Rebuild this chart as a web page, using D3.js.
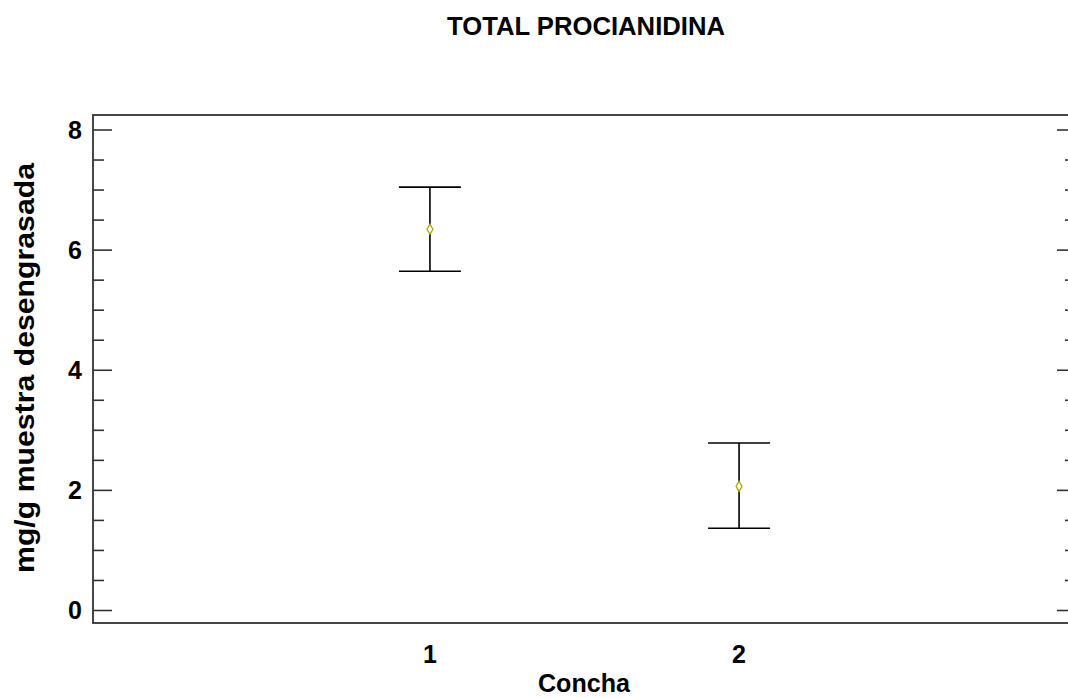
<!DOCTYPE html>
<html><head><meta charset="utf-8">
<script src="https://cdn.jsdelivr.net/npm/d3@7"></script>
<style>html,body{margin:0;padding:0;background:#fff;}svg{display:block;}</style>
</head><body>
<script>
const categories = ["1", "2"];
const catPositions = [1, 2];
const means = [6.34, 2.06];
const upper = [7.04, 2.78];
const lower = [5.64, 1.36];
const yMajorTicks = [0, 2, 4, 6, 8];
const yMinorTicks = [0.5,1,1.5,2.5,3,3.5,4.5,5,5.5,6.5,7,7.5];
const title = "TOTAL PROCIANIDINA";
const xLabel = "Concha";
const yLabel = "mg/g muestra desengrasada";

const W = 1068, H = 698;
const svg = d3.select("body").append("svg").attr("width", W).attr("height", H);
const font = "'Liberation Sans', Arial, sans-serif";

const frame = {left: 93, right: 1076, top: 115, bottom: 623};
const x = d3.scaleLinear().domain([-0.09, 3.09]).range([frame.left, frame.right]);
const y = d3.scaleLinear().domain([0, 8]).range([610, 129.5]);

// frame
svg.append("rect").attr("x", frame.left).attr("y", frame.top)
  .attr("width", frame.right - frame.left).attr("height", frame.bottom - frame.top)
  .attr("fill", "none").attr("stroke", "#333").attr("stroke-width", 1.8);

// left axis ticks
const gl = svg.append("g").attr("transform", `translate(${frame.left},0)`);
gl.call(d3.axisRight(y).tickValues(yMajorTicks).tickSize(19).tickFormat(""));
const gl2 = svg.append("g").attr("transform", `translate(${frame.left},0)`);
gl2.call(d3.axisRight(y).tickValues(yMinorTicks).tickSize(11).tickFormat(""));
// right axis ticks
const gr = svg.append("g").attr("transform", `translate(${frame.right},0)`);
gr.call(d3.axisLeft(y).tickValues(yMajorTicks).tickSize(19).tickFormat(""));
const gr2 = svg.append("g").attr("transform", `translate(${frame.right},0)`);
gr2.call(d3.axisLeft(y).tickValues(yMinorTicks).tickSize(11).tickFormat(""));
svg.selectAll(".domain").remove();
svg.selectAll(".tick line").attr("stroke", "#333").attr("stroke-width", 1.6);

// y tick labels
svg.append("g").selectAll("text").data(yMajorTicks).join("text")
  .attr("x", 82).attr("y", d => y(d)).attr("dy", "0.36em")
  .attr("text-anchor", "end").attr("font-family", font).attr("font-weight", "bold")
  .attr("font-size", 25).attr("fill", "#000").text(d => d);

// x tick labels
svg.append("g").selectAll("text").data(categories).join("text")
  .attr("x", (d, i) => x(catPositions[i])).attr("y", 663)
  .attr("text-anchor", "middle").attr("font-family", font).attr("font-weight", "bold")
  .attr("font-size", 25).attr("fill", "#000").text(d => d);

// error bars
const capHalf = 31;
const eb = svg.append("g").attr("stroke", "#000").attr("stroke-width", 1.6);
catPositions.forEach((c, i) => {
  const cx = x(c);
  eb.append("line").attr("x1", cx).attr("x2", cx).attr("y1", y(upper[i])).attr("y2", y(lower[i]));
  eb.append("line").attr("x1", cx - capHalf).attr("x2", cx + capHalf).attr("y1", y(upper[i])).attr("y2", y(upper[i]));
  eb.append("line").attr("x1", cx - capHalf).attr("x2", cx + capHalf).attr("y1", y(lower[i])).attr("y2", y(lower[i]));
});
// means
svg.append("g").selectAll("path").data(means).join("path")
  .attr("d", d3.symbol().type(d3.symbolDiamond).size(30))
  .attr("transform", (d, i) => `translate(${x(catPositions[i])},${y(d)})`)
  .attr("fill", "#fff").attr("stroke", "#a8a800").attr("stroke-width", 1.3);

// title
svg.append("text").attr("x", 586).attr("y", 34.5).attr("text-anchor", "middle")
  .attr("font-family", font).attr("font-weight", "bold").attr("font-size", 25)
  .attr("textLength", 278).attr("lengthAdjust", "spacingAndGlyphs").text(title);
// x label
svg.append("text").attr("x", 584).attr("y", 692).attr("text-anchor", "middle")
  .attr("font-family", font).attr("font-weight", "bold").attr("font-size", 26)
  .attr("textLength", 92).attr("lengthAdjust", "spacingAndGlyphs").text(xLabel);
// y label
svg.append("text").attr("transform", "translate(34,368) rotate(-90)").attr("text-anchor", "middle")
  .attr("font-family", font).attr("font-weight", "bold").attr("font-size", 27)
  .attr("textLength", 410).attr("lengthAdjust", "spacingAndGlyphs").text(yLabel);
</script>
</body></html>
